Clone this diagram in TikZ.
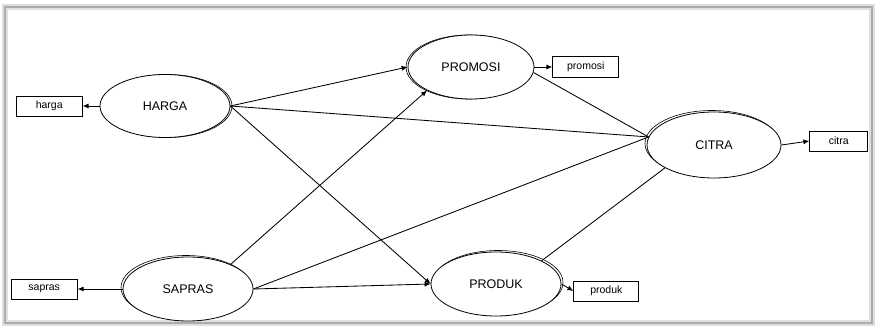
\documentclass[tikz,border=0pt]{standalone}
\usepackage{fontspec}
\setmainfont{Liberation Sans}
\usetikzlibrary{arrows.meta,positioning,shapes.geometric,shadows}

\begin{document}
\begin{tikzpicture}[
  x=1pt,y=-1pt,
  latent/.style={ellipse,draw,fill=white,line width=0.8pt,inner sep=0pt,
    minimum width=130pt,minimum height=63pt,font=\fontsize{12.5}{14}\selectfont},
  indic/.style={rectangle,draw,fill=white,line width=0.8pt,inner sep=0pt,
    minimum width=66pt,minimum height=20pt,font=\fontsize{10.5}{12}\selectfont},
  shad/.style={copy shadow={shadow xshift=#1,shadow yshift=0pt,draw,line width=0.6pt}},
  >={Latex[length=6pt,width=5pt]},
  line width=0.85pt
]
  \useasboundingbox (0,0) rectangle (877,328);
  % frame
  \draw[gray!25,line width=6pt] (5,7) rectangle (872,323);
  \draw[gray!65,line width=2pt] (5,7) rectangle (872,323);

  % latent variables
  \node[latent,shad=2pt] (harga) at (165,106) {HARGA};
  \node[latent,shad=-2pt,minimum width=126pt,minimum height=64pt] (promosi) at (471,67) {PROMOSI};
  \node[latent,copy shadow={shadow xshift=-2pt,shadow yshift=1.5pt,draw,line width=0.6pt},
    minimum width=134pt,minimum height=66pt] (citra) at (714,145) {CITRA};
  \node[latent,copy shadow={shadow xshift=-2pt,shadow yshift=1.5pt,draw,line width=0.6pt},
    minimum height=64pt] (sapras) at (188,289) {SAPRAS};
  \node[latent,copy shadow={shadow xshift=2pt,shadow yshift=1.5pt,draw,line width=0.6pt},
    minimum height=64pt] (produk) at (496,284) {PRODUK};

  % indicators
  \node[indic,left=17pt of harga] (hargabox) {harga};
  \node[indic,right=18pt of promosi,minimum height=21pt] (promosibox) {promosi};
  \node[indic,right=28pt of citra,minimum width=58pt,yshift=4pt] (citrabox) {citra};
  \node[indic,left=45pt of sapras] (saprasbox) {sapras};
  \node[indic,right=12pt of produk,yshift=-7pt,minimum width=65pt] (produkbox) {produk};

  % structural paths
  \foreach \a/\b in {harga.east/promosi.west,sapras.30/promosi.208,
                     harga.east/produk.west,sapras.east/produk.west}{
    \draw[->] (\a) -- (\b);
  }
  \foreach \a/\b in {harga.east/citra.173,promosi.-5/citra.173,
                     sapras.east/citra.173,produk.27/citra.205}{
    \draw (\a) -- (\b);
  }

  % measurement arrows
  \foreach \a/\b in {harga.west/hargabox.east,promosi.east/promosibox.west,
                     citra.east/citrabox.west,sapras.west/saprasbox.east,
                     produk.east/produkbox.west}{
    \draw[->] (\a) -- (\b);
  }
\end{tikzpicture}
\end{document}
